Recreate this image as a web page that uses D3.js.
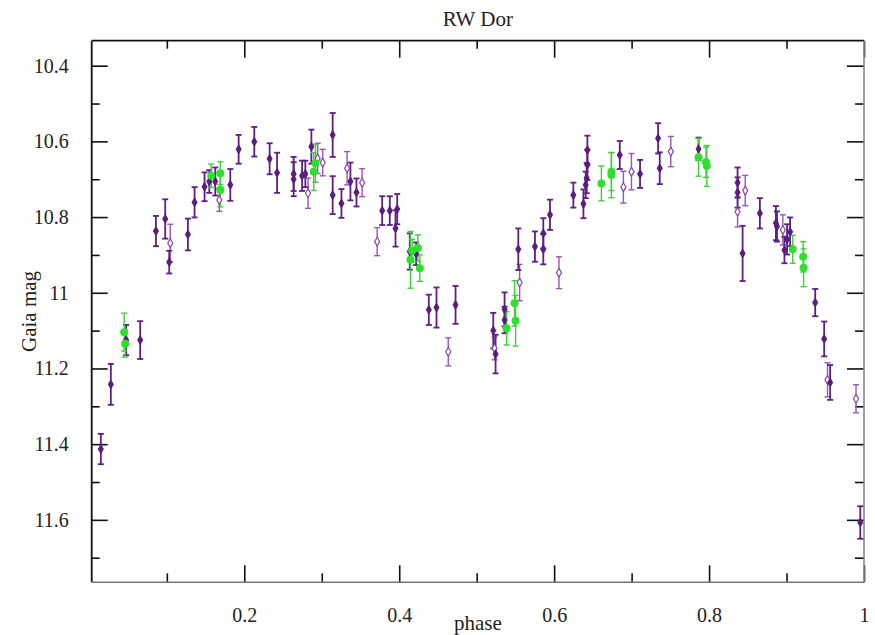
<!DOCTYPE html>
<html>
<head>
<meta charset="utf-8">
<script src="https://cdn.jsdelivr.net/npm/d3@7"></script>
<style>
  html, body { margin: 0; padding: 0; background: #fff; }
</style>
</head>
<body>
<svg id="chart" width="875" height="635"></svg>
<script>
// ---- data ----
const title = "RW Dor";
const xLabel = "phase";
const yLabel = "Gaia mag";
const xMajorTicks = [0.2, 0.4, 0.6, 0.8, 1];
const xMinorTicks = [0.1, 0.3, 0.5, 0.7, 0.9];
const yMajorTicks = [10.4, 10.6, 10.8, 11, 11.2, 11.4, 11.6];
const yMinorTicks = [10.5, 10.7, 10.9, 11.1, 11.3, 11.5, 11.7];

// dark purple series
const darkPhase = [0.0148,0.0277,0.0475,0.0656,0.0859,0.0979,0.1031,0.1272,0.1358,0.1487,0.1548,0.1625,0.1819,0.1927,0.2129,0.2327,0.2423,0.2637,0.2637,0.2746,0.2788,0.2866,0.3141,0.3141,0.3254,0.3370,0.3448,0.3780,0.3878,0.3974,0.3952,0.4136,0.4218,0.4382,0.4481,0.4727,0.5214,0.5244,0.5360,0.5360,0.5537,0.5752,0.5860,0.5860,0.5946,0.6248,0.6378,0.6429,0.6429,0.6420,0.6407,0.6847,0.7109,0.7342,0.7363,0.7864,0.8368,0.8368,0.8433,0.8656,0.8863,0.8877,0.8973,0.9007,0.9046,0.9370,0.9486,0.9563,0.9952];
const darkMag   = [11.413,11.242,11.125,11.125,10.837,10.805,10.919,10.846,10.761,10.720,10.706,10.706,10.715,10.621,10.601,10.646,10.683,10.686,10.700,10.691,10.686,10.614,10.583,10.742,10.764,10.706,10.735,10.783,10.783,10.779,10.830,10.891,10.897,11.045,11.039,11.032,11.100,11.162,11.044,11.072,10.885,10.878,10.885,10.843,10.794,10.742,10.765,10.623,10.662,10.697,10.715,10.636,10.686,10.592,10.671,10.620,10.709,10.735,10.896,10.790,10.816,10.825,10.887,10.859,10.839,11.026,11.122,11.237,11.607];
const darkErr   = [0.040,0.054,0.040,0.050,0.040,0.052,0.030,0.042,0.040,0.038,0.030,0.037,0.042,0.038,0.039,0.041,0.053,0.045,0.045,0.040,0.035,0.045,0.058,0.050,0.038,0.050,0.037,0.038,0.038,0.040,0.048,0.048,0.030,0.040,0.053,0.050,0.047,0.051,0.045,0.035,0.055,0.040,0.040,0.040,0.040,0.033,0.038,0.038,0.040,0.040,0.035,0.037,0.037,0.040,0.042,0.030,0.040,0.040,0.073,0.040,0.045,0.040,0.035,0.040,0.038,0.036,0.046,0.046,0.043];

// light purple series
const lightPhase = [0.1044,0.1677,0.2823,0.2947,0.3012,0.3327,0.3521,0.3715,0.4633,0.5231,0.5554,0.6062,0.6894,0.6998,0.7506,0.8368,0.8467,0.8952,0.9529,0.9897];
const lightMag   = [10.869,10.755,10.737,10.645,10.656,10.671,10.709,10.865,11.156,11.147,10.973,10.947,10.721,10.680,10.627,10.786,10.730,10.834,11.230,11.280];
const lightErr   = [0.050,0.030,0.040,0.040,0.035,0.044,0.037,0.037,0.037,0.030,0.048,0.042,0.042,0.048,0.040,0.040,0.040,0.040,0.045,0.037];

// green series
const greenPhase = [0.0449,0.0462,0.1573,0.1690,0.1690,0.2896,0.2918,0.4145,0.4167,0.4240,0.4266,0.5386,0.5489,0.5502,0.6610,0.6739,0.6739,0.7864,0.7971,0.7960,0.9080,0.9215,0.9220];
const greenMag   = [11.104,11.135,10.691,10.684,10.728,10.680,10.658,10.913,10.889,10.882,10.935,11.094,11.028,11.074,10.711,10.689,10.680,10.642,10.665,10.655,10.885,10.905,10.934];
const greenErr   = [0.050,0.035,0.031,0.030,0.045,0.050,0.050,0.075,0.030,0.035,0.035,0.044,0.060,0.067,0.046,0.060,0.050,0.050,0.054,0.040,0.037,0.040,0.050];

// ---- layout ----
const FONT = "'Liberation Serif', 'DejaVu Serif', 'Times New Roman', Times, serif";
const svg = d3.select("#chart");
const L = 91.7, R = 864, T = 40.7, B = 582.3;
const x = d3.scaleLinear().domain([0.003, 1.0]).range([L, R]);
const y = d3.scaleLinear().domain([10.334, 11.765]).range([T, B]);

function zip(p, m, e) { return p.map((v, i) => ({ p: v, m: m[i], e: e[i] })); }
const dark = zip(darkPhase, darkMag, darkErr);
const light = zip(lightPhase, lightMag, lightErr);
const green = zip(greenPhase, greenMag, greenErr);

// ---- axes ----
function styleAxis(g, labels) {
  g.attr("font-family", FONT);
  g.select(".domain").remove();
  g.selectAll(".tick line").attr("stroke", "#111").attr("stroke-width", 1.6);
  if (!labels) g.selectAll(".tick text").remove();
  else g.selectAll(".tick text").style("font-family", FONT).style("font-size", "20px").attr("fill", "#222");
}
const fmt = d3.format("");
// bottom
svg.append("g").attr("transform", `translate(0,${B})`)
  .call(d3.axisBottom(x).tickValues(xMajorTicks).tickFormat(fmt).tickSizeInner(-17).tickSizeOuter(0).tickPadding(26))
  .call(g => styleAxis(g, true));
svg.append("g").attr("transform", `translate(0,${B})`)
  .call(d3.axisBottom(x).tickValues(xMinorTicks).tickSizeInner(-9).tickSizeOuter(0))
  .call(g => styleAxis(g, false));
// top
svg.append("g").attr("transform", `translate(0,${T})`)
  .call(d3.axisTop(x).tickValues(xMajorTicks).tickSizeInner(-17).tickSizeOuter(0))
  .call(g => styleAxis(g, false));
svg.append("g").attr("transform", `translate(0,${T})`)
  .call(d3.axisTop(x).tickValues(xMinorTicks).tickSizeInner(-8).tickSizeOuter(0))
  .call(g => styleAxis(g, false));
// left
svg.append("g").attr("transform", `translate(${L},0)`)
  .call(d3.axisLeft(y).tickValues(yMajorTicks).tickFormat(fmt).tickSizeInner(-16).tickSizeOuter(0).tickPadding(23))
  .call(g => styleAxis(g, true));
svg.append("g").attr("transform", `translate(${L},0)`)
  .call(d3.axisLeft(y).tickValues(yMinorTicks).tickSizeInner(-8).tickSizeOuter(0))
  .call(g => styleAxis(g, false));
// right
svg.append("g").attr("transform", `translate(${R},0)`)
  .call(d3.axisRight(y).tickValues(yMajorTicks).tickSizeInner(-17).tickSizeOuter(0))
  .call(g => styleAxis(g, false));
svg.append("g").attr("transform", `translate(${R},0)`)
  .call(d3.axisRight(y).tickValues(yMinorTicks).tickSizeInner(-9).tickSizeOuter(0))
  .call(g => styleAxis(g, false));

// frame
svg.append("line").attr("x1", L).attr("x2", R).attr("y1", T).attr("y2", T).attr("stroke", "#111").attr("stroke-width", 1.8);
svg.append("line").attr("x1", L).attr("x2", L).attr("y1", T).attr("y2", B).attr("stroke", "#111").attr("stroke-width", 1.8);
svg.append("line").attr("x1", L).attr("x2", R).attr("y1", B).attr("y2", B).attr("stroke", "#777").attr("stroke-width", 1.6);
svg.append("line").attr("x1", R).attr("x2", R).attr("y1", T).attr("y2", B).attr("stroke", "#888").attr("stroke-width", 1.6);

// labels
function label(t) { return t.style("font-family", FONT).attr("fill", "#222"); }
label(svg.append("text")).attr("x", (L + R) / 2).attr("y", 26).attr("text-anchor", "middle").style("font-size", "21px").text(title);
label(svg.append("text")).attr("x", (L + R) / 2).attr("y", 630).attr("text-anchor", "middle").style("font-size", "21px").text(xLabel);
label(svg.append("text")).attr("transform", `translate(36,${(T + B) / 2}) rotate(-90)`).attr("text-anchor", "middle").style("font-size", "21px").text(yLabel);

// ---- marks ----
function errorBars(data, color, width) {
  const g = svg.append("g");
  const cap = 3;
  data.forEach(d => {
    const cx = x(d.p), y1 = y(d.m - d.e), y2 = y(d.m + d.e);
    g.append("line").attr("x1", cx).attr("x2", cx).attr("y1", y1).attr("y2", y2).attr("stroke", color).attr("stroke-width", width);
    g.append("line").attr("x1", cx - cap).attr("x2", cx + cap).attr("y1", y1).attr("y2", y1).attr("stroke", color).attr("stroke-width", width);
    g.append("line").attr("x1", cx - cap).attr("x2", cx + cap).attr("y1", y2).attr("y2", y2).attr("stroke", color).attr("stroke-width", width);
  });
}
const diamond = d3.symbol().type(d3.symbolDiamond).size(22);

errorBars(light, "#9a55b8", 1.4);
errorBars(dark, "#5e1f82", 1.8);
errorBars(green, "#3ccf3c", 1.4);

svg.append("g").selectAll("path").data(light).join("path")
  .attr("d", diamond).attr("transform", d => `translate(${x(d.p)},${y(d.m)})`)
  .attr("fill", "#fff").attr("stroke", "#8a45a8").attr("stroke-width", 1.2);
svg.append("g").selectAll("path").data(dark).join("path")
  .attr("d", diamond).attr("transform", d => `translate(${x(d.p)},${y(d.m)})`)
  .attr("fill", "#5a1c7e").attr("stroke", "#5a1c7e").attr("stroke-width", 1);
svg.append("g").selectAll("circle").data(green).join("circle")
  .attr("cx", d => x(d.p)).attr("cy", d => y(d.m)).attr("r", 4)
  .attr("fill", "#2ee02e");
</script>
</body>
</html>
